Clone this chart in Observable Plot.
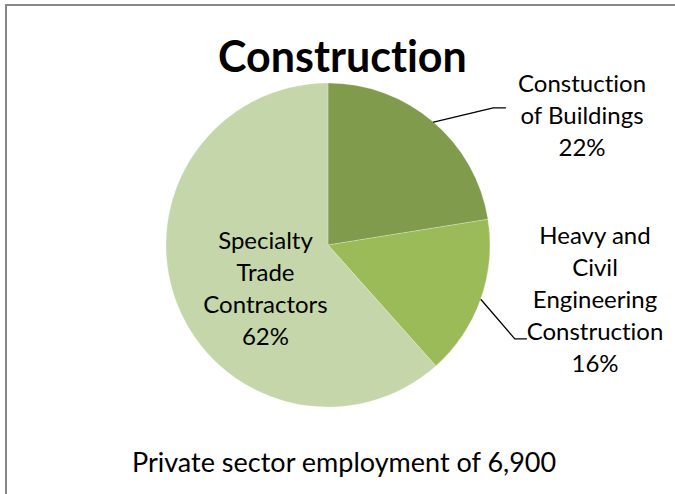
<!DOCTYPE html>
<html><head><meta charset="utf-8">
<script src="https://cdn.jsdelivr.net/npm/d3@7"></script>
<script src="https://cdn.jsdelivr.net/npm/@observablehq/plot@0.6"></script>
<style>
html,body{margin:0;padding:0;background:#fff;overflow:hidden;}
#wrap{position:relative;width:675px;height:494px;overflow:hidden;}
#border{position:absolute;left:5px;top:4px;width:800px;height:800px;border-left:2px solid #878787;border-top:2px solid #878787;pointer-events:none;box-sizing:border-box;}
#wrap svg{display:block;position:absolute;left:0;top:0;}
#wrap svg text{font-variant-ligatures:none;font-feature-settings:"liga" 0,"clig" 0;}
</style></head><body><div id="wrap"><div id="border"></div></div>
<script>
// ---- data ----
const categories = ["Constuction\nof Buildings", "Heavy and\nCivil\nEngineering\nConstruction", "Specialty\nTrade\nContractors"];
const employment = [1550, 1100, 4250];
const colors = ["#7f9b4b", "#9bbb59", "#c4d6aa"];
const titleText = "Construction";
const footerText = "Private sector employment of 6,900";

// ---- layout (unit-radius coordinates) ----
const labelPos = [[1.565, 0.816], [1.645, -0.320], [-0.389, -0.252]];
const leaderElbow = [[1.017, 0.850], [1.150, -0.576], null];
const leaderEnd = [[1.093, 0.850], [1.222, -0.576], null];

const total = d3.sum(employment);
const rows = categories.map((name, i) => ({name, value: employment[i], pct: Math.round(employment[i] / total * 100), color: colors[i], i}));
const arcs = d3.pie().value(d => d.value).sort(null)(rows);

const labels = rows.map((d, i) => ({x: labelPos[i][0], y: labelPos[i][1], text: d.name + "\n" + d.pct + "%"}));
const leaders = [];
arcs.forEach((a, i) => {
  if (!leaderElbow[i]) return;
  const mid = (a.startAngle + a.endAngle) / 2;
  leaders.push({id: i, x: Math.sin(mid), y: Math.cos(mid)});
  leaders.push({id: i, x: leaderElbow[i][0], y: leaderElbow[i][1]});
  leaders.push({id: i, x: leaderEnd[i][0], y: leaderEnd[i][1]});
});

const pieMark = (index, scales) => {
  const {x, y} = scales;
  const cx = x(0), cy = y(0), r = x(1) - x(0);
  const g = d3.create("svg:g").attr("transform", `translate(${cx},${cy})`);
  g.selectAll("path").data(arcs).join("path")
    .attr("d", d3.arc().innerRadius(0).outerRadius(r))
    .attr("fill", d => d.data.color)
    .attr("stroke", "#ffffff").attr("stroke-width", 0.4).attr("stroke-opacity", 0.6);
  return g.node();
};

const R = 162, CX = 328, CY = 245, W = 675, H = 494;
const chart = Plot.plot({
  width: W, height: H,
  marginLeft: CX - R, marginRight: W - CX - R, marginTop: CY - R, marginBottom: H - CY - R,
  x: {domain: [-1, 1], axis: null},
  y: {domain: [-1, 1], axis: null},
  style: {background: "transparent", fontFamily: "Lato, sans-serif", color: "#000", overflow: "visible"},
  marks: [
    pieMark,
    Plot.line(leaders, {x: "x", y: "y", z: "id", stroke: "#000", strokeWidth: 1.3, curve: "linear"}),
    Plot.text(labels, {x: "x", y: "y", text: "text", fontSize: 24, lineHeight: 1.333, fill: "#000"}),
    Plot.text([{x: 0.086, y: 1.068, t: titleText}], {x: "x", y: "y", text: "t", fontSize: 43, fontWeight: "bold", lineAnchor: "bottom", fill: "#000"}),
    Plot.text([{x: 0.096, y: -1.401, t: footerText}], {x: "x", y: "y", text: "t", fontSize: 27, lineAnchor: "bottom", fill: "#000"})
  ]
});
document.getElementById("wrap").appendChild(chart);
</script>
</body></html>
